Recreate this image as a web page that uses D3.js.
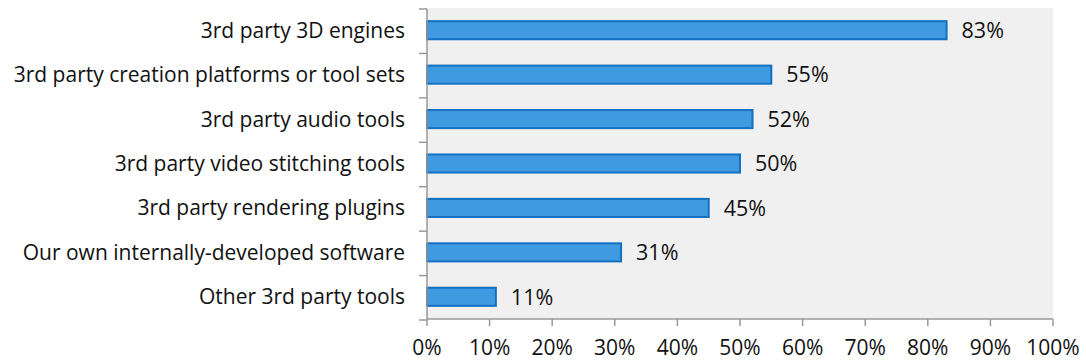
<!DOCTYPE html>
<html><head><meta charset="utf-8">
<script src="https://cdn.jsdelivr.net/npm/d3@7"></script>
<style>body{margin:0;background:#fff}svg{display:block}text{font-family:"Open Sans",sans-serif;fill:#111}</style>
</head><body><svg id="c" width="1086" height="363"></svg>
<script>
const categories = ["3rd party 3D engines","3rd party creation platforms or tool sets","3rd party audio tools","3rd party video stitching tools","3rd party rendering plugins","Our own internally-developed software","Other 3rd party tools"];
const values = [83,55,52,50,45,31,11];
const xTicks = [0,10,20,30,40,50,60,70,80,90,100];

const m = {l:427, r:1053, t:8, b:319};
const svg = d3.select("#c");
const x = d3.scaleLinear().domain([0,100]).range([m.l,m.r]);
const y = d3.scaleBand().domain(categories).range([m.t,m.b]).paddingInner(0.57).paddingOuter(0.285);
const yb = d3.scaleBand().domain(categories).range([m.t,m.b]);

svg.append("rect").attr("x",m.l).attr("y",m.t).attr("width",m.r-m.l).attr("height",m.b-m.t).attr("fill","#f0f0f0");

svg.selectAll(".bar").data(values).join("rect")
  .attr("x",x(0)).attr("y",(d,i)=>y(categories[i])+0.5)
  .attr("width",d=>x(d)-x(0)).attr("height",y.bandwidth()-1)
  .attr("fill","#3f9ae2").attr("stroke","#1470c0").attr("stroke-width",2);

svg.selectAll(".val").data(values).join("text")
  .attr("x",d=>x(d)+15).attr("y",(d,i)=>y(categories[i])+y.bandwidth()/2)
  .attr("dy","0.36em").attr("font-size",21.5).text(d=>d+"%");

// y axis
const ya = svg.append("g");
ya.append("line").attr("x1",m.l).attr("x2",m.l).attr("y1",m.t+1).attr("y2",m.b).attr("stroke","#999").attr("stroke-width",1.5);
const yEdges = categories.map(c=>yb(c)).concat([m.b]);
ya.selectAll(".t").data(yEdges).join("line").attr("x1",m.l-8).attr("x2",m.l).attr("y1",d=>d+1).attr("y2",d=>d+1).attr("stroke","#999").attr("stroke-width",1.5);
ya.selectAll(".lab").data(categories).join("text")
  .attr("x",405).attr("y",d=>yb(d)+yb.bandwidth()/2).attr("dy","0.36em")
  .attr("text-anchor","end").attr("font-size",21).text(d=>d);

// x axis
const xa = svg.append("g");
xa.append("line").attr("x1",m.l).attr("x2",m.r).attr("y1",m.b).attr("y2",m.b).attr("stroke","#999").attr("stroke-width",1.5);
xa.selectAll(".t").data(xTicks).join("line").attr("x1",d=>x(d)).attr("x2",d=>x(d)).attr("y1",m.b).attr("y2",m.b+7).attr("stroke","#999").attr("stroke-width",1.5);
xa.selectAll(".lab").data(xTicks).join("text").attr("x",d=>x(d)).attr("y",355).attr("text-anchor","middle").attr("font-size",21).text(d=>d+"%");
</script></body></html>
